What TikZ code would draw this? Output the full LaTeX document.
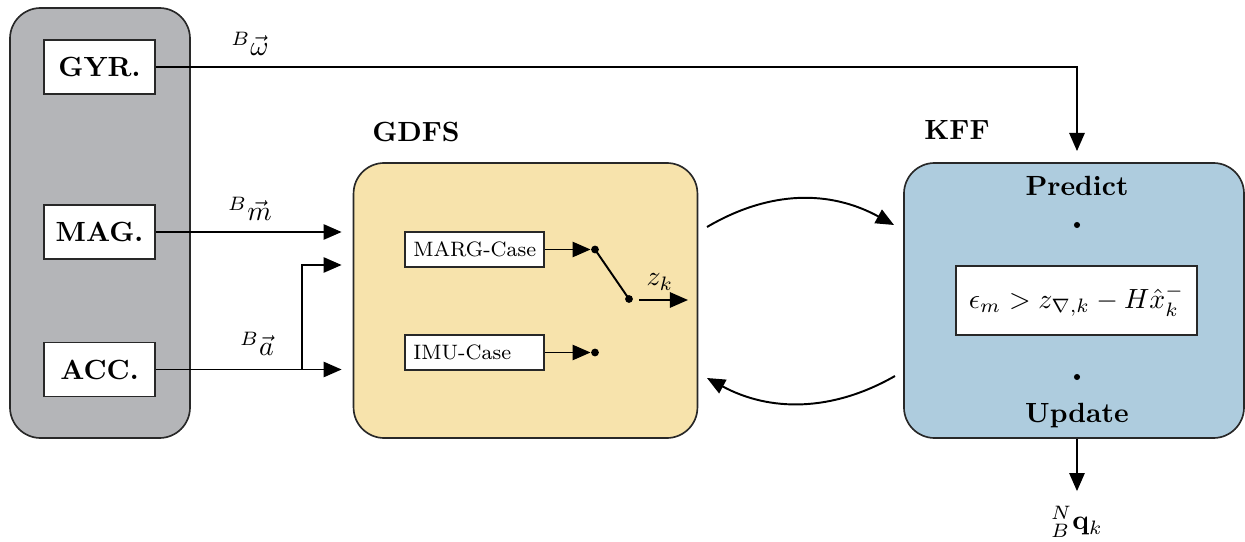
\documentclass[tikz,border=0pt]{standalone}
\usepackage{amsmath}
\usetikzlibrary{arrows.meta,calc}
\definecolor{grayfill}{RGB}{180,181,184}
\definecolor{yelfill}{RGB}{247,227,172}
\definecolor{bluefill}{RGB}{174,204,222}
\definecolor{edge}{RGB}{40,40,40}
\tikzset{
  bigbox/.style={draw=edge,line width=0.6pt,rounded corners=11pt,inner sep=0pt},
  sensor/.style={draw=edge,fill=white,line width=0.6pt,inner sep=0pt,
     minimum width=40pt,minimum height=19.4pt,font=\bfseries},
  casebox/.style={draw=edge,fill=white,line width=0.6pt,inner xsep=3pt,inner ysep=0pt,
     minimum height=12.6pt,text width=44pt,align=left,font=\fontsize{7.5}{9}\selectfont},
  conn/.style={line width=0.7pt,-{Triangle[length=6.5pt,width=5.5pt]}},
  plain/.style={line width=0.7pt},
  dotn/.style={circle,fill=black,inner sep=0pt,minimum size=2.8pt},
  ttl/.style={font=\bfseries},
}
\begin{document}
\begin{tikzpicture}[x=0.36pt,y=-0.36pt]
\useasboundingbox (0,0) rectangle (1245,542);
% big boxes
\node[bigbox,fill=grayfill,minimum width=64.8pt,minimum height=154.8pt] (sens) at (100,223) {};
\node[bigbox,fill=yelfill,minimum width=123.8pt,minimum height=99pt] (gdfs) at (525.5,300.5) {};
\node[bigbox,fill=bluefill,minimum width=122.4pt,minimum height=99pt] (kff) at (1074,300.5) {};
% titles
\node[ttl] (gdfst) at (416,132) {GDFS};
\node[ttl] (kfft) at (957,130) {KFF};
% sensors
\node[sensor] (gyr) at (99.5,67) {GYR.};
\node[sensor] (mag) at (99.5,232) {MAG.};
\node[sensor] (acc) at (99.5,369.5) {ACC.};
% labels
\node (wl) at (250,44) {${}^{B}\vec{\omega}$};
\node (ml) at (250,209) {${}^{B}\vec{m}$};
\node (al) at (257,344) {${}^{B}\vec{a}$};
% cases
\node[casebox] (marg) at (474.5,249.5) {\mbox{MARG-Case}};
\node[casebox] (imu) at (474.5,352.5) {\mbox{IMU-Case}};
\node[dotn] (d1) at (595,249.5) {};
\node[dotn] (d2) at (629,299) {};
\node[dotn] (d3) at (595,352.5) {};
\coordinate (zs) at (639,300);
\coordinate (ze) at (688,300);
\node (zl) at (660,282) {$z_k$};
% KFF contents
\node[font=\bfseries] (pred) at (1077,186) {Predict};
\node[font=\bfseries] (upd) at (1077,416) {Update};
\node[dotn,minimum size=2.2pt] (k1) at (1077,225) {};
\node[dotn,minimum size=2.2pt] (k2) at (1077,377) {};
\node[draw=edge,fill=white,line width=0.6pt,minimum width=86.8pt,minimum height=24.8pt,inner sep=0pt] (form) at (1076.5,300.5) {$\epsilon_m > z_{\nabla,k} - H\hat{x}_k^{-}$};
\node (q) at (1077,522) {${}^{N}_{B}\mathbf{q}_k$};
% connectors
\coordinate (wc) at (1077,67);
\draw[conn,shorten >=4pt] (gyr.east) -- (wc) -- (wc |- kff.north);
\draw[conn,shorten >=4pt] (mag.east) -- (mag.east -| gdfs.west);
\coordinate (junc) at (302,369.5);
\coordinate (jtop) at (302,265);
\draw[conn,shorten >=4pt] (acc.east) -- (acc.east -| gdfs.west);
\draw[conn,shorten >=4pt] (junc) -- (jtop) -- (jtop -| gdfs.west);
\draw[conn] (marg.east) -- (d1.west);
\draw[conn] (imu.east) -- (d3.west);
\draw[plain] (d1.center) -- (d2.center);
\draw[conn] (zs) -- (ze);
\coordinate (c1s) at (707,227);
\coordinate (c1e) at (894,225);
\coordinate (c2s) at (895,376);
\coordinate (c2e) at (707,378);
\draw[conn] (c1s) .. controls (770,190) and (830,190) .. (c1e);
\draw[conn] (c2s) .. controls (832,412) and (770,412) .. (c2e);
\draw[conn,shorten >=2pt] (kff.south -| q) -- (q.north);
\end{tikzpicture}
\end{document}
